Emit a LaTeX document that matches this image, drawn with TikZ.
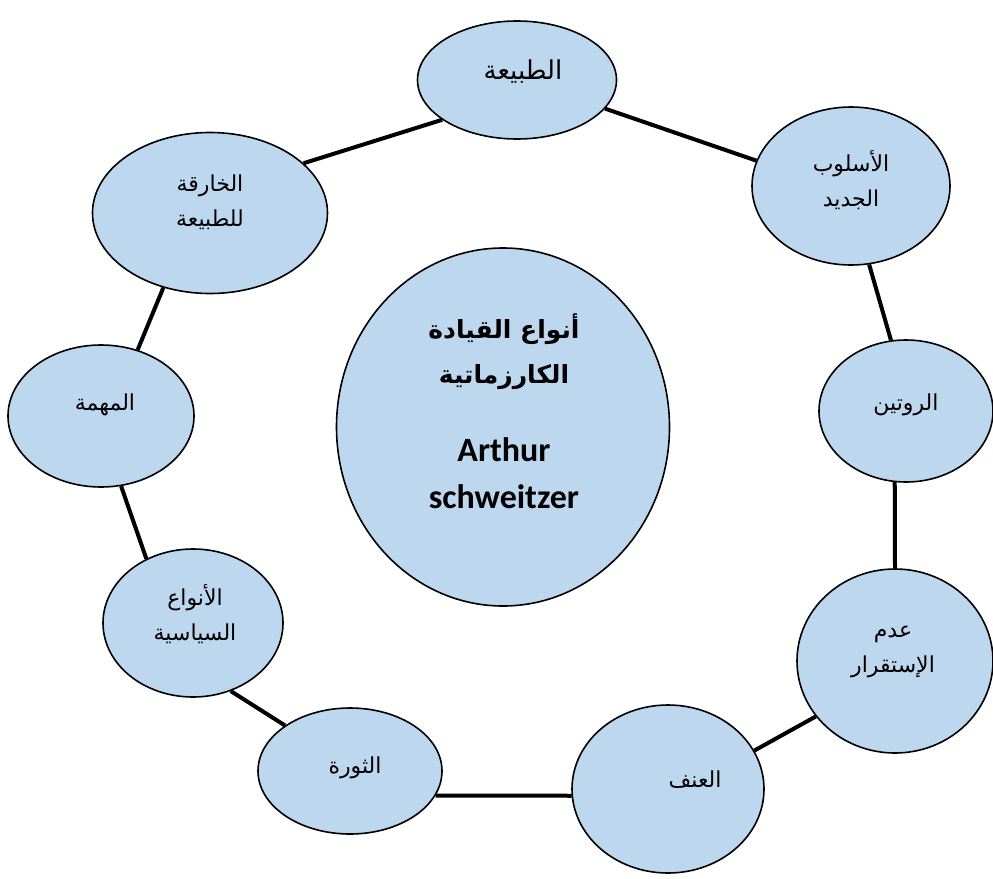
\documentclass[tikz,border=0pt]{standalone}
\usepackage{fontspec}
\usetikzlibrary{shapes.geometric}
\TeXXeTstate=1
\newfontfamily\arabicfont[Script=Arabic]{DejaVu Sans}
\newfontfamily\latinbold{Carlito}
\definecolor{bubble}{HTML}{BDD7EE}
\tikzset{
  bubble/.style={ellipse, draw=black, line width=1.6pt, fill=bubble, inner sep=0pt},
  lbl/.style={align=center, font=\arabicfont\fontsize{22}{35}\selectfont},
  link/.style={line width=4pt, line cap=butt}
}
\begin{document}
\begin{tikzpicture}[x=1pt,y=-1pt]
\useasboundingbox (0,0) rectangle (993,878);

% outer ring of ellipses
\node[bubble, minimum width=199pt, minimum height=118pt] (tabia)  at (517,80)  {};
\node[bubble, minimum width=198pt, minimum height=158pt] (uslub)  at (851,186) {};
\node[bubble, minimum width=174pt, minimum height=142pt] (rutin)  at (906,411) {};
\node[bubble, minimum width=196pt, minimum height=184pt] (istiq)  at (895,661) {};
\node[bubble, minimum width=192pt, minimum height=168pt] (unf)    at (668,789) {};
\node[bubble, minimum width=184pt, minimum height=126pt] (thawra) at (350,771) {};
\node[bubble, minimum width=180pt, minimum height=148pt] (siyasi) at (193,623) {};
\node[bubble, minimum width=186pt, minimum height=142pt] (muhimma) at (101,416) {};
\node[bubble, minimum width=235pt, minimum height=161pt] (khariqa) at (210,213) {};

% central ellipse
\node[bubble, minimum width=333pt, minimum height=358pt] (center) at (503,427) {};

% labels
\node[lbl, font=\arabicfont\fontsize{26}{34}\selectfont] (tabia-t) at (523,72) {\beginR الطبيعة\endR};
\node[lbl] (uslub-t)   at (851,180) {\beginR الأسلوب\endR\\\beginR الجديد\endR};
\node[lbl] (rutin-t)   at (906,405) {\beginR الروتين\endR};
\node[lbl] (istiq-t)   at (893,652) {\beginR عدم\endR\\\beginR الإستقرار\endR};
\node[lbl] (unf-t)     at (695,780) {\beginR العنف\endR};
\node[lbl] (thawra-t)  at (355,768) {\beginR الثورة\endR};
\node[lbl] (siyasi-t)  at (195,614) {\beginR الأنواع\endR\\\beginR السياسية\endR};
\node[lbl] (muhimma-t) at (105,405) {\beginR المهمة\endR};
\node[lbl] (khariqa-t) at (210,202) {\beginR الخارقة\endR\\\beginR للطبيعة\endR};

\node[align=center, font=\arabicfont\bfseries\fontsize{25}{45}\selectfont] (center-ar) at (504,352)
  {\beginR أنواع القيادة\endR\\\beginR الكارزماتية\endR};
\node[align=center, font=\latinbold\bfseries\fontsize{34}{47}\selectfont] (center-en) at (504,473)
  {Arthur\\schweitzer};

% ring connectors
\draw[link] (khariqa.28) -- (tabia.208);
\draw[link] (tabia.-18) -- (uslub.165);
\draw[link] (uslub.-77) -- (rutin.102);
\draw[link] (rutin.-99) -- (istiq.90);
\draw[link] (istiq.215) -- (unf.24);
\draw[link] (unf.184) -- (thawra.-16);
\draw[link] (thawra.145) -- (siyasi.-61);
\draw[link] (siyasi.126) -- (muhimma.-74);
\draw[link] (muhimma.61) -- (khariqa.-122);
\end{tikzpicture}
\end{document}
